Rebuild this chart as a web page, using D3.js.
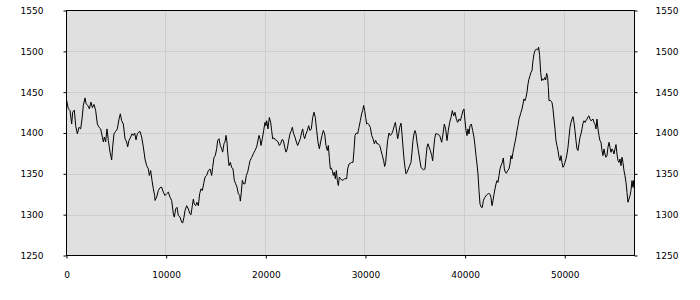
<!DOCTYPE html>
<html><head><meta charset="utf-8">
<script src="https://cdn.jsdelivr.net/npm/d3@7"></script>
<style>body{margin:0;background:#fff}svg{display:block}text{font-family:"DejaVu Sans",sans-serif;font-size:9px;fill:#000}</style>
</head><body><svg id="c" width="700" height="300"></svg>
<script>
const yTicks = [1250,1300,1350,1400,1450,1500,1550];
const xTicks = [0,10000,20000,30000,40000,50000];
const xDomain = [0, 57000];
const yDomain = [1250, 1550];

const xs = [0,184,352,519,619,786,920,1087,1255,1422,1556,1690,1857,1957,2124,2292,2459,2593,2760,2927,3094,3262,3429,3596,3697,3797,3931,4064,4198,4366,4533,4633,4767,4934,5101,5269,5402,5536,5704,5871,6038,6138,6272,6439,6573,6707,6841,6975,7108,7242,7376,7543,7711,7878,8045,8212,8313,8446,8580,8714,8848,
8881,9048,9216,9383,9550,9717,9885,10052,10219,10386,10554,10721,10821,10955,11089,11223,11390,11557,11657,11791,11892,12059,12226,12393,12494,12627,12728,12828,12962,13096,13230,13363,13497,13631,13765,13899,14066,14233,14400,14568,14668,14802,14935,15069,15170,15303,15437,15571,15671,15805,15906,16006,16106,16173,16307,16441,16575,16708,16842,16976,17110,17244,17377,17444,17545,17645,17779,17913,18046,18180,18314,
18414,18581,18749,18916,19083,19183,19317,19418,19518,19652,19785,19919,20020,20087,20220,20354,20488,20588,20689,20822,20956,21090,21224,21358,21491,21625,21759,21893,22027,22160,22294,22428,22562,22662,22796,22930,23064,23197,23331,23465,23599,23699,23799,23900,24034,24167,24301,24435,24569,24703,24836,24970,25104,25238,25372,25505,25639,25773,25907,26041,26174,26275,26375,26475,26576,26676,26777,26877,26977,27078,27178,27278,27379,27512,27646,27780,27914,
28115,28216,28349,28483,28617,28751,28851,28952,29085,29219,29353,29487,29621,29721,29821,29922,30022,30122,30223,30356,30490,30624,30758,30892,31025,31159,31293,31427,31561,31694,31828,31929,32029,32129,32230,32363,32497,32631,32765,32899,32999,33099,33233,33333,33434,33568,33668,33768,33869,33969,34069,34170,34303,34437,34571,34671,34772,34872,34973,35073,35173,35307,35441,35575,35708,35842,35976,36076,36177,36277,36377,36511,36645,36745,36846,36946,37046,37180,37314,37448,
37648,37782,37916,38050,38183,38317,38451,38585,38719,38852,38986,39120,39254,39388,39521,39655,39789,39889,39990,40090,40190,40291,40391,40492,40625,40759,40893,40993,41094,41194,41294,41395,41495,41629,41729,41830,41963,42097,42231,42365,42499,42599,42699,42800,42900,43000,43101,43201,43301,43402,43502,43602,43736,43837,43937,44037,44138,44271,44405,44506,44606,44706,44807,44907,45007,45108,45208,45308,45409,45509,45609,45710,45810,45910,46011,46111,46211,46312,46412,46512,46613,46713,46813,46914,
47014,47148,47282,47382,47482,47583,47683,47783,47884,47984,48084,48185,48285,48352,48419,48519,48620,48720,48820,48921,49021,49121,49222,49322,49422,49523,49623,49723,49824,49924,50024,50125,50225,50325,50426,50526,50627,50727,50827,50928,51028,51128,51229,51329,51429,51530,51630,51730,51831,51931,52031,52132,52232,52332,52433,52533,52633,52734,52834,52934,53035,53135,53235,53336,53436,53536,53637,53737,53837,53938,54038,54138,54239,54339,54440,54540,54640,54741,54841,54941,55042,55142,55242,55343,55443,55543,55644,55744,55844,55945,56045,56145,56246,56346,56447,56547,56647,56748,56848,56915,56990];

const ys = [1440.6,1429.6,1427.5,1411,1425.5,1428,1409,1399,1407,1405,1417,1433.7,1443,1436,1434,1429.6,1437.8,1431,1435,1427.5,1411,1407,1405,1395,1389,1395,1389,1405,1391,1376.6,1367,1383,1399,1402,1405,1417,1423.5,1415,1411,1393,1389,1383,1391,1395,1399,1397,1400,1391.6,1399,1401,1402,1395,1383,1368,1360,1356,1348,1354,1342,1331.6,1323.5,
1317.4,1321.5,1329.6,1333,1333.7,1327.6,1323.5,1325.6,1327.6,1321.5,1317.4,1301,1297,1307,1309,1299,1297,1291,1289.7,1297,1305,1311,1307,1301,1300,1311,1319,1313,1311,1315,1311,1325.6,1331.6,1329.6,1337.8,1346,1348,1354,1356,1348,1358,1370,1372.5,1380.6,1390.8,1393,1384.7,1380.6,1376.6,1386.8,1389,1397,1389,1376.6,1360,1364,1358,1356,1342,1337.8,1333.7,1325.6,1323.5,1316.6,1327.6,1342,1337.8,1337.8,1348,1352,1360,
1366,1370,1374.5,1378.6,1383,1389,1397,1393,1384.7,1393,1403,1413,1409,1415,1405,1419,1413,1403,1393,1394,1391.6,1391,1389,1384.7,1386.8,1392,1391,1383,1376.6,1380.6,1391,1399,1403,1407,1399,1395,1389,1384.7,1389,1393,1401,1405,1397,1393,1399,1403,1409,1403,1405,1419,1425.5,1419,1403,1389,1380.6,1389,1397,1403,1399,1384.7,1378.6,1384.7,1370,1356,1357,1354,1348,1352,1344,1354,1342,1335.7,1346,1344,1342,1342.7,1344,
1344,1356,1362,1363,1364,1364,1378.6,1397,1400,1399,1407,1415,1423.5,1427.5,1433.7,1427.5,1419,1411,1412,1410,1407,1397,1393,1386.8,1391,1386.8,1386.8,1384.7,1378.6,1372.5,1366,1359,1364,1378.6,1391,1400,1397,1399,1403,1409,1413,1405,1393,1399,1407,1412,1399,1383,1368,1358,1350,1352,1356,1360,1364,1376.6,1391,1399,1403,1399,1389,1378.6,1368,1358,1356,1355,1356,1370,1383,1386.8,1383,1378.6,1372.5,1366,1380.6,1393,1399,1399,1398,1397,
1388.6,1398.8,1411,1405,1390.7,1403,1413,1419,1427.4,1421,1425.3,1417,1413,1417,1415,1421,1427.4,1429.4,1415,1403,1396.8,1405,1398.8,1409,1411,1403,1394.7,1384.5,1372.3,1362,1349.9,1329.5,1313.1,1309,1309,1317,1321,1323,1325,1326,1325,1321,1311,1317,1325,1331.5,1337.6,1341.7,1339.6,1347.8,1356,1360,1364,1369.4,1356,1351.9,1350.7,1353.9,1356,1362,1372.3,1368.2,1376.4,1382.5,1388.6,1394.7,1403,1409,1417,1421,1425.3,1429.4,1435.5,1441.7,1439.6,1443.7,1449.8,1460,1466,1470,1474.3,1476.3,1488.6,1496.7,
1500.8,1502.9,1501.6,1505,1494.7,1474.3,1464,1466,1464.9,1468,1464.9,1473,1468,1456,1439.6,1440.4,1438.8,1437.6,1429.4,1417,1405,1390.7,1384.5,1378.5,1370.3,1366.2,1372.3,1364,1358,1360,1364,1368.2,1374.3,1382.5,1394.7,1406.9,1413,1417,1420,1413,1403,1390.7,1380.5,1378.5,1386.6,1394.7,1398.8,1405,1411.9,1415,1413,1415,1417,1420,1421,1417,1415,1416,1417,1413,1411,1405,1417,1405,1396.8,1390.7,1388.6,1378.5,1372.3,1380.5,1374.3,1370.3,1372.3,1382.5,1388.6,1382.5,1376.4,1380.5,1378.5,1374.3,1380.5,1385.8,1374.3,1366.2,1364,1368.2,1360,1370.3,1364,1353.9,1347.8,1339.6,1327.4,1315.2,1319.2,1323.3,1329.5,1341.7,1333.5,1341.7,1331.5];

const L = 66.5, R = 634.5, T = 10.5, B = 255.5;
const svg = d3.select('#c');
const x = d3.scaleLinear().domain(xDomain).range([L, R]);
const y = d3.scaleLinear().domain(yDomain).range([B, T]);

svg.append('rect').attr('x', L).attr('y', T).attr('width', R - L).attr('height', B - T).attr('fill', '#e0e0e0');

const grid = svg.append('g').attr('stroke', '#cdcdcd').attr('stroke-width', 1);
grid.selectAll('.gy').data(yTicks.slice(1, -1)).enter().append('line')
  .attr('x1', L).attr('x2', R).attr('y1', d => Math.round(y(d)) + 0.5).attr('y2', d => Math.round(y(d)) + 0.5);
grid.selectAll('.gx').data(xTicks.slice(1)).enter().append('line')
  .attr('y1', T).attr('y2', B).attr('x1', d => Math.round(x(d)) - 0.5).attr('x2', d => Math.round(x(d)) - 0.5);

const data = xs.map((v, i) => [v, ys[i]]);
svg.append('path').datum(data)
  .attr('fill', 'none').attr('stroke', '#000').attr('stroke-width', 1)
  .attr('d', d3.line().x(d => x(d[0])).y(d => y(d[1])));

svg.append('rect').attr('x', L).attr('y', T).attr('width', R - L).attr('height', B - T)
  .attr('fill', 'none').attr('stroke', '#000').attr('stroke-width', 1);

const fmt = d3.format('d');
const axL = d3.axisLeft(y).tickValues(yTicks).tickSize(3).tickPadding(20).tickFormat(fmt);
const axR = d3.axisRight(y).tickValues(yTicks).tickSize(3).tickPadding(18).tickFormat(fmt);
const axB = d3.axisBottom(x).tickValues(xTicks).tickSize(3).tickPadding(13).tickFormat(fmt);
function style(g){ g.select('.domain').remove(); g.selectAll('text').attr('font-family','DejaVu Sans').attr('font-size','9px').attr('fill','#000'); g.selectAll('line').attr('stroke','#000'); }
svg.append('g').attr('transform', `translate(${L},0)`).call(axL).call(style);
svg.append('g').attr('transform', `translate(${R},0)`).call(axR).call(style);
svg.append('g').attr('transform', `translate(0,${B})`).call(axB).call(style);
</script></body></html>
